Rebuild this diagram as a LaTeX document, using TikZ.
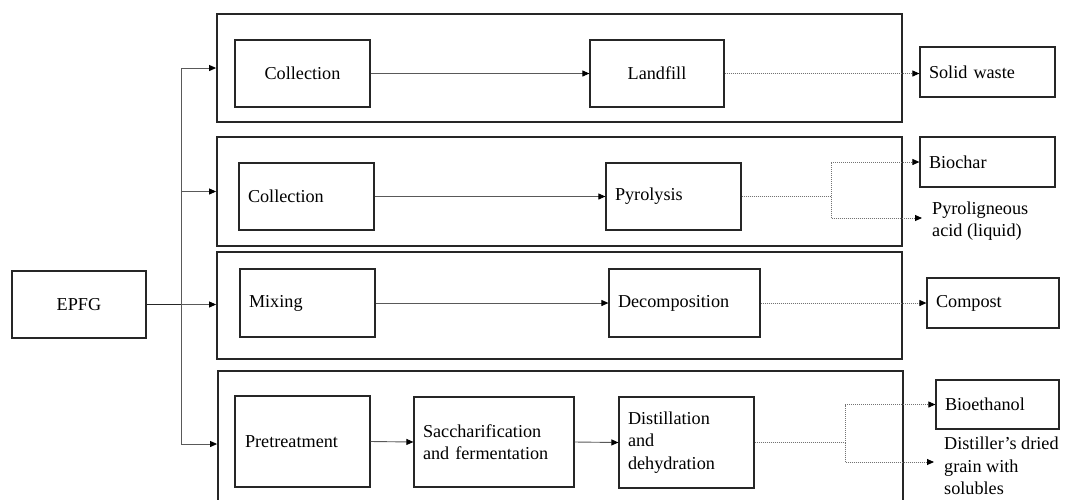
\documentclass[tikz,border=0pt]{standalone}
\usepackage{fontspec}
\setmainfont{Liberation Serif}
\usetikzlibrary{arrows.meta}
\begin{document}
\begin{tikzpicture}[x=1pt,y=-1pt,
  every node/.style={font=\fontsize{18.2}{22.5}\selectfont},
  outer/.style={draw=black!85, line width=1.8pt, rectangle, inner sep=0pt},
  box/.style={draw=black!85, line width=1.2pt, rectangle, inner sep=0pt, align=center},
  lbox/.style={draw=black!85, line width=1.2pt, rectangle, inner ysep=0pt, inner xsep=9pt, align=left},
  conn/.style={draw=black!65, line width=0.9pt},
  tip/.style={-{Triangle[length=7pt,width=6pt,color=black]}},
  arr/.style={conn, tip},
  dot/.style={draw=black!55, line width=0.9pt, dash pattern=on 1pt off 1pt, tip},
  dotl/.style={draw=black!55, line width=0.9pt, dash pattern=on 1pt off 1pt}
]
\useasboundingbox (0,0) rectangle (1065,499);
\fill[white] (0,0) rectangle (1065,499);

% group containers
\node[outer, minimum width=685pt, minimum height=108pt] (g1) at (559.5,68) {};
\node[outer, minimum width=685pt, minimum height=109pt] (g2) at (559.5,191.5) {};
\node[outer, minimum width=685pt, minimum height=107pt] (g3) at (559.5,305.5) {};
\node[outer, minimum width=685pt, minimum height=146pt] (g4) at (560.5,444) {};

% EPFG
\node[box, minimum width=134pt, minimum height=67pt] (epfg) at (79,304.5) {EPFG};

% row 1
\node[box, minimum width=135pt, minimum height=67pt] (col1) at (302.5,73.5) {Collection};
\node[box, minimum width=134pt, minimum height=67pt] (land) at (657,73.5) {Landfill};
\node[lbox, text width=117pt, minimum height=50pt] (sw) at (987.5,72) {Solid waste};

% row 2
\node[lbox, text width=117pt, minimum height=67pt] (col2) at (306.5,196.5) {Collection};
\node[lbox, text width=117pt, minimum height=67pt] (pyro) at (673.5,196.5) {Pyrolysis};
\node[lbox, text width=117pt, minimum height=50pt] (bioc) at (987.5,162) {Biochar};
\node[anchor=west, inner sep=0pt, align=left] (pyrol) at (932,221) {Pyroligneous\\acid (liquid)};
\coordinate (pa) at (922,218);

% row 3
\node[lbox, text width=117pt, minimum height=68pt] (mix) at (307.5,303) {Mixing};
\node[lbox, text width=133pt, minimum height=68pt] (deco) at (684.5,303) {Decomposition};
\node[lbox, text width=114pt, minimum height=50pt] (comp) at (993,303) {Compost};

% row 4
\node[lbox, inner xsep=10pt, text width=115pt, minimum height=91pt] (pre) at (302.5,441.5) {Pretreatment};
\node[lbox, text width=142pt, minimum height=90pt] (sacc) at (494,442) {Saccharification\\and fermentation};
\node[lbox, text width=117pt, minimum height=91pt] (dist) at (686.5,442.5) {Distillation\\and\\dehydration};
\node[lbox, text width=105pt, minimum height=49pt] (beth) at (997.5,404.5) {Bioethanol};
\node[anchor=west, inner sep=0pt, align=left] (ddgs) at (944,466) {Distiller's dried\\grain with\\solubles};
\coordinate (da) at (934,462);

% EPFG distribution
\coordinate (v1) at (181,68);
\coordinate (v2) at (181,191.5);
\coordinate (v4) at (181,444);
\draw[conn] (v1) -- (v4);
\draw[draw=black!85, line width=1.2pt] (epfg.east) -- (181,304.5);
\draw[arr] (181,304.5) -- (g3.west |- epfg.east);
\draw[arr] (v1) -- (g1.west);
\draw[arr] (v2) -- (g2.west);
\draw[arr] (v4) -- (g4.west);

% process arrows
\draw[arr] (col1.east) -- (land.west);
\draw[arr] (col2.east) -- (pyro.west);
\draw[arr] (mix.east) -- (deco.west);
\draw[arr] (pre.east) -- (sacc.west);
\draw[arr] (sacc.east) -- (dist.west);

% product arrows
\draw[dot] (land.east) -- (land.east -| sw.west);
\draw[dotl] (pyro.east) -- (831,196.5) -- (831,162);
\draw[dot] (831,162) -- (bioc.west);
\draw[dot] (831,196.5) |- (pa);
\draw[dot] (deco.east) -- (deco.east -| comp.west);
\draw[dotl] (dist.east) -- (845,442.5) -- (845,404.5);
\draw[dot] (845,404.5) -- (beth.west);
\draw[dot] (845,442.5) |- (da);
\end{tikzpicture}
\end{document}
